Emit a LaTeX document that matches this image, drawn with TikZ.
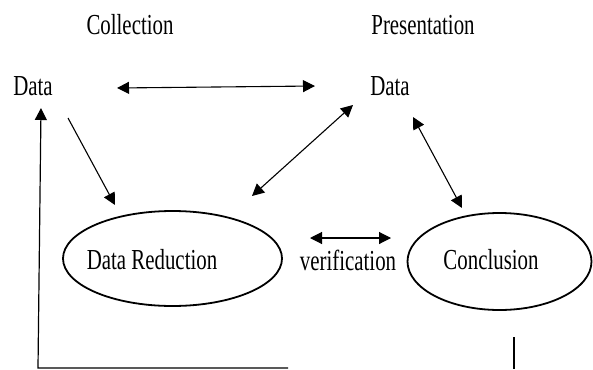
\documentclass[tikz,border=0pt]{standalone}
\usepackage{fontspec}
\setmainfont{Liberation Serif}
\usetikzlibrary{arrows.meta,shapes.geometric}
\newcommand{\narrow}[1]{\scalebox{0.72}[1]{#1}}
\tikzset{
  tip/.tip={Triangle[length=12pt,width=12pt]},
  lbl/.style={inner sep=0pt, font=\fontsize{29}{30}\selectfont},
  oval/.style={draw, ellipse, line width=1.8pt, inner sep=0pt},
  link/.style={line width=1.1pt, -tip},
  twoway/.style={line width=1.1pt, tip-tip},
  frame/.style={line width=1.2pt}
}
\begin{document}
\begin{tikzpicture}[x=1pt,y=-1pt]
\useasboundingbox (0,0) rectangle (593,369);

% headings and data labels
\node[lbl] (coll) at (130,25) {\narrow{Collection}};
\node[lbl] (pres) at (423,25) {\narrow{Presentation}};
\node[lbl] (dataL) at (33,86) {\narrow{Data}};
\node[lbl] (dataR) at (390,86) {\narrow{Data}};

% the two ovals with their captions
\node[oval, minimum width=219pt, minimum height=95pt] (red) at (172.5,258.5) {};
\node[lbl] (redtxt) at (152,260) {\narrow{Data Reduction}};
\node[oval, minimum width=184pt, minimum height=97pt] (conc) at (499.5,261.5) {};
\node[lbl] (conctxt) at (491,260) {\narrow{Conclusion}};
\node[lbl] (verif) at (348,260) {\narrow{verification}};

% arrow end points
\coordinate (hL) at (117,88);
\coordinate (hR) at (315,86);
\coordinate (aS) at (68,118);
\coordinate (aE) at (115,205);
\coordinate (bS) at (252,196);
\coordinate (bE) at (353,105);
\coordinate (cS) at (413,117);
\coordinate (cE) at (462,208);
\coordinate (vL) at (310,238);
\coordinate (vR) at (391,238);
\coordinate (fEnd) at (288,368);
\coordinate (fCorner) at (38,368);
\coordinate (fTip) at (41,108);
\coordinate (tTop) at (514,337);
\coordinate (tBot) at (514,369);

% connectors
\draw[twoway] (hL) -- (hR);
\draw[link] (aS) -- (aE);
\draw[twoway] (bS) -- (bE);
\draw[twoway] (cS) -- (cE);
\draw[twoway] (vL) -- (vR);
\draw[frame, -tip] (fEnd) -- (fCorner) -- (fTip);
\draw[frame] (tTop) -- (tBot);
\end{tikzpicture}
\end{document}
